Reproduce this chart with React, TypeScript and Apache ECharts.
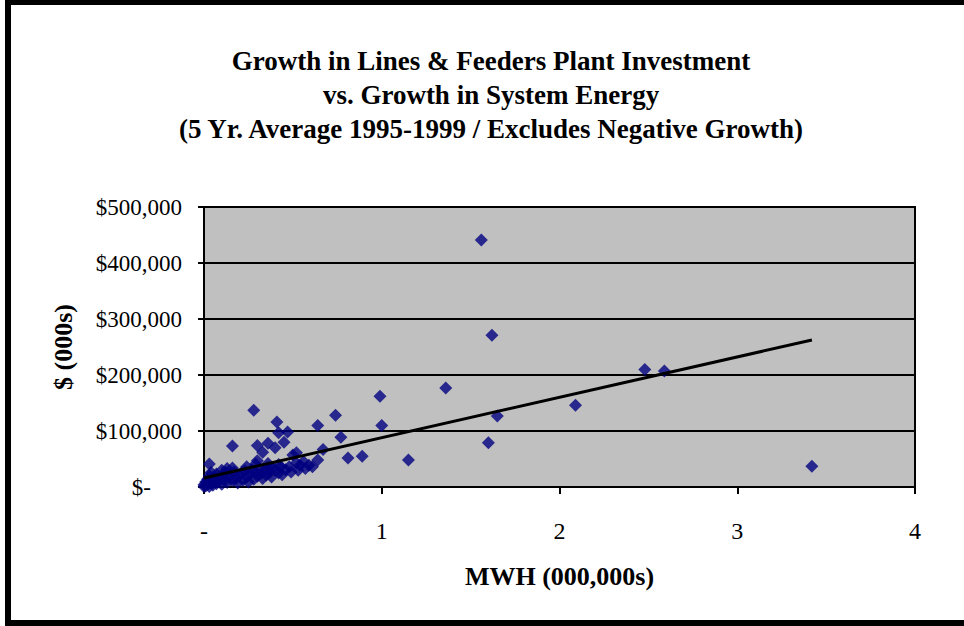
import React, { useEffect, useRef } from "react";
import * as echarts from "echarts";

// MWH growth (000,000s)
const mwh: number[] = [
  1.56, 1.62, 1.36, 0.99, 1.0, 0.74, 0.64, 0.77, 0.81, 0.89, 1.15, 1.6, 1.65, 2.09, 2.48, 2.59, 3.42,
  0.28, 0.41, 0.42, 0.47, 0.45, 0.16, 0.3, 0.36, 0.4, 0.33, 0.52, 0.5, 0.67, 0.64, 0.56, 0.52, 0.54,
  0.59, 0.61, 0.57, 0.44, 0.38, 0.3, 0.29, 0.03, 0.1, 0.16, 0.24, 0.13,
  0.0, 0.0, 0.01, 0.01, 0.02, 0.02, 0.03, 0.03, 0.04, 0.04, 0.05, 0.05, 0.06, 0.07, 0.07, 0.08, 0.09,
  0.1, 0.1, 0.11, 0.12, 0.13, 0.14, 0.15, 0.16, 0.17, 0.18, 0.19, 0.2, 0.21, 0.22, 0.23, 0.24, 0.25,
  0.26, 0.27, 0.28, 0.29, 0.3, 0.31, 0.32, 0.33, 0.34, 0.35, 0.36, 0.37, 0.38, 0.4, 0.42, 0.43, 0.46,
  0.48, 0.49, 0.53, 0.36, 0.42,
];

// Plant investment growth ($000s)
const investment: number[] = [
  441000, 271000, 177000, 162000, 110000, 128000, 110000, 89000, 52000, 55000, 48000, 79000, 127000,
  146000, 210000, 207000, 37000,
  137000, 116000, 97000, 98000, 80000, 73000, 74000, 78000, 70000, 62000, 61000, 57000, 67000, 48000,
  45000, 43000, 39000, 39000, 36000, 33000, 22000, 34000, 47000, 41000, 41000, 30000, 34000, 36000, 33000,
  1000, 4000, 2000, 9000, 5000, 14000, 1000, 20000, 7000, 26000, 3000, 12000, 18000, 6000, 23000, 10000,
  15000, 5000, 21000, 13000, 26000, 8000, 17000, 22000, 11000, 27000, 15000, 7000, 20000, 25000, 12000,
  29000, 18000, 9000, 23000, 31000, 14000, 27000, 19000, 33000, 24000, 15000, 29000, 21000, 35000, 26000,
  18000, 30000, 25000, 36000, 31000, 36000, 27000, 30000, 42000, 40000,
];

// Linear trend line end points
const trendX: number[] = [0, 3.42];
const trendY: number[] = [16000, 262500];

const titleLines: string[] = [
  "Growth in Lines & Feeders Plant Investment",
  "vs. Growth in System Energy",
  "(5 Yr. Average 1995-1999 / Excludes Negative Growth)",
];

const xTicks: number[] = [0, 1, 2, 3, 4];
const yTicks: number[] = [0, 100000, 200000, 300000, 400000, 500000];

const FONT = '"Times New Roman", "Liberation Serif", serif';

export default function App() {
  const ref = useRef<HTMLDivElement>(null);

  useEffect(() => {
    if (!ref.current) return;
    const chart = echarts.init(ref.current, null, { renderer: "svg" });
    const points = mwh.map((x, i) => [x, investment[i]]);
    const trend = trendX.map((x, i) => [x, trendY[i]]);

    chart.setOption({
      animation: false,
      backgroundColor: "#ffffff",
      title: {
        text: titleLines.join("\n"),
        left: 486,
        top: 39,
        textAlign: "center",
        textStyle: {
          fontFamily: FONT,
          fontWeight: "bold",
          fontSize: 27,
          lineHeight: 34,
          color: "#000",
        },
      },
      grid: {
        left: 204,
        right: 49,
        top: 207,
        bottom: 139,
        show: true,
        backgroundColor: "#C0C0C0",
        borderColor: "#000",
        borderWidth: 2,
        containLabel: false,
        outerBoundsMode: "none",
      },
      xAxis: {
        type: "value",
        min: xTicks[0],
        max: xTicks[xTicks.length - 1],
        interval: 1,
        name: "MWH (000,000s)",
        nameLocation: "middle",
        nameGap: 76,
        nameTextStyle: { fontFamily: FONT, fontWeight: "bold", fontSize: 26, color: "#000" },
        axisLine: { show: true, onZero: false, lineStyle: { color: "#000", width: 2 } },
        axisTick: { show: true, inside: false, length: 7, lineStyle: { color: "#000", width: 2 } },
        splitLine: { show: false },
        axisLabel: {
          margin: 32,
          fontFamily: FONT,
          fontSize: 24,
          color: "#000",
          formatter: (v: number) => (v === 0 ? "-" : String(v)),
        },
      },
      yAxis: {
        type: "value",
        min: yTicks[0],
        max: yTicks[yTicks.length - 1],
        interval: 100000,
        name: "$ (000s)",
        nameLocation: "middle",
        nameRotate: 90,
        nameGap: 128,
        nameTextStyle: { fontFamily: FONT, fontWeight: "bold", fontSize: 26, color: "#000" },
        axisLine: { show: true, onZero: false, lineStyle: { color: "#000", width: 2 } },
        axisTick: { show: true, inside: false, length: 6, lineStyle: { color: "#000", width: 2 } },
        splitLine: { show: true, lineStyle: { color: "#000", width: 2 } },
        axisLabel: {
          margin: 22,
          fontFamily: FONT,
          fontSize: 23,
          color: "#000",
          formatter: (v: number) =>
            v === 0 ? "{z|$-}" : "$" + v.toLocaleString("en-US"),
          rich: {
            z: { fontFamily: FONT, fontSize: 23, color: "#000", padding: [0, 31, 0, 0] },
          },
        },
      },
      graphic: [
        {
          type: "rect",
          shape: { x: 8, y: 2, width: 975, height: 621 },
          style: { fill: "none", stroke: "#000", lineWidth: 6 },
          silent: true,
          z: 100,
        },
      ],
      series: [
        {
          type: "scatter",
          data: points,
          symbol: "diamond",
          symbolSize: 13,
          itemStyle: { color: "#000080" },
          z: 2,
        },
        {
          type: "line",
          data: trend,
          symbol: "none",
          lineStyle: { color: "#000", width: 3 },
          z: 3,
        },
      ],
    });

    return () => chart.dispose();
  }, []);

  return (
    <div
      ref={ref}
      style={{ position: "fixed", left: 0, top: 0, width: 964, height: 626 }}
    />
  );
}
